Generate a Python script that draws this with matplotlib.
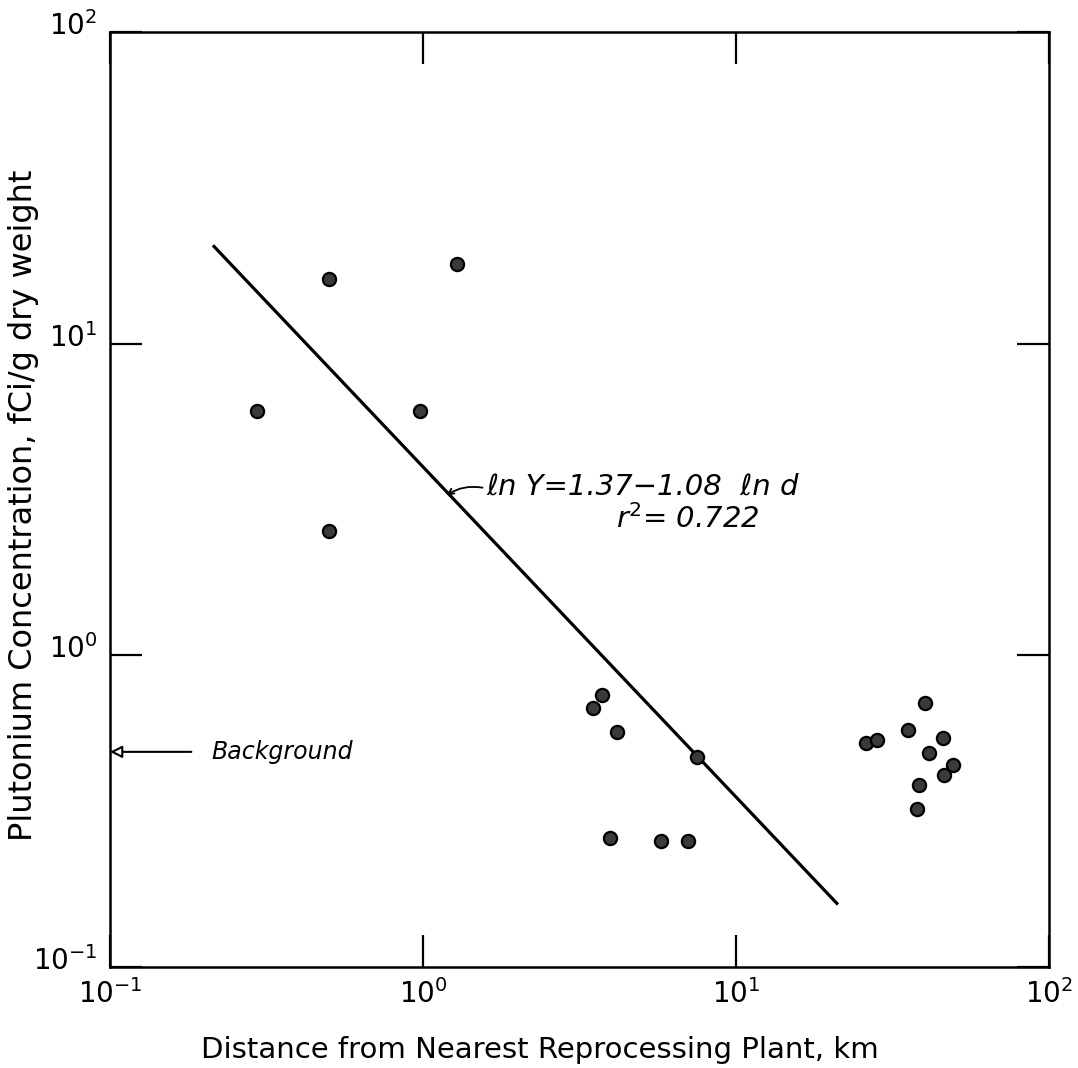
import numpy as np
import matplotlib
matplotlib.use("Agg")
import matplotlib.pyplot as plt
from matplotlib.transforms import ScaledTranslation

# distance (km) and plutonium concentration (fCi/g)
dist = [0.294, 0.50, 0.50, 0.98, 1.28,
        3.50, 3.72, 4.18, 7.49, 3.96, 5.75, 7.04,
        26.0, 28.3, 35.4, 40.3, 45.7, 41.3, 49.5, 46.2, 38.5, 37.9]
conc = [6.1, 16.1, 2.5, 6.1, 18.0,
        0.676, 0.746, 0.569, 0.470, 0.259, 0.253, 0.253,
        0.522, 0.533, 0.575, 0.702, 0.541, 0.485, 0.444, 0.4125, 0.383, 0.321]

# regression line end points
line_d = [0.215, 21.0]
line_y = [20.5, 0.16]

background = 0.49

fig = plt.figure(figsize=(10.78, 10.68), dpi=100)
ax = fig.add_axes([0.1020, 0.0946, 0.8711, 0.8755])

ax.plot(line_d, line_y, '-k', linewidth=2.3)
ax.plot(dist, conc, 'o', ms=9.5, mfc='#3a3a3a', mec='black', mew=1.6)

ax.set_xscale('log')
ax.set_yscale('log')
ax.set_xlim(0.1, 100)
ax.set_ylim(0.1, 100)
ax.minorticks_off()
ax.tick_params(which='major', direction='in', length=23, width=1.6,
               top=True, right=True, labelsize=20, pad=9)
for s in ax.spines.values():
    s.set_linewidth(1.8)

# y tick labels sit a little above their ticks in the original
for lab in ax.get_yticklabels():
    lab.set_transform(lab.get_transform() + ScaledTranslation(0, 0.09, fig.dpi_scale_trans))

ax.set_xlabel('Distance from Nearest Reprocessing Plant, km', fontsize=21)
ax.set_ylabel('Plutonium Concentration, fCi/g dry weight', fontsize=23)
ax.xaxis.set_label_coords(0.458, -0.074)
ax.yaxis.set_label_coords(-0.076, 0.494)

# background marker
ax.annotate('', xy=(0.1, background), xytext=(0.182, background),
            arrowprops=dict(arrowstyle='-|>', fc='white', ec='black', lw=1.5,
                            mutation_scale=18, shrinkA=0, shrinkB=0))
ax.text(0.211, background, 'Background', fontsize=17, style='italic',
        va='center', ha='left')

# regression equation
ax.annotate('', xy=(1.19, 3.26), xytext=(1.55, 3.45),
            arrowprops=dict(arrowstyle='->', color='black', lw=1.3,
                            connectionstyle='arc3,rad=0.2',
                            shrinkA=0, shrinkB=0))
ax.text(1.6, 3.48, 'ℓn Y=1.37−1.08  ℓn d', fontsize=21, style='italic',
        va='center', ha='left')
ax.text(4.15, 2.73, 'r$^2$= 0.722', fontsize=21, style='italic',
        va='center', ha='left')

fig.savefig('out.png', dpi=100)
